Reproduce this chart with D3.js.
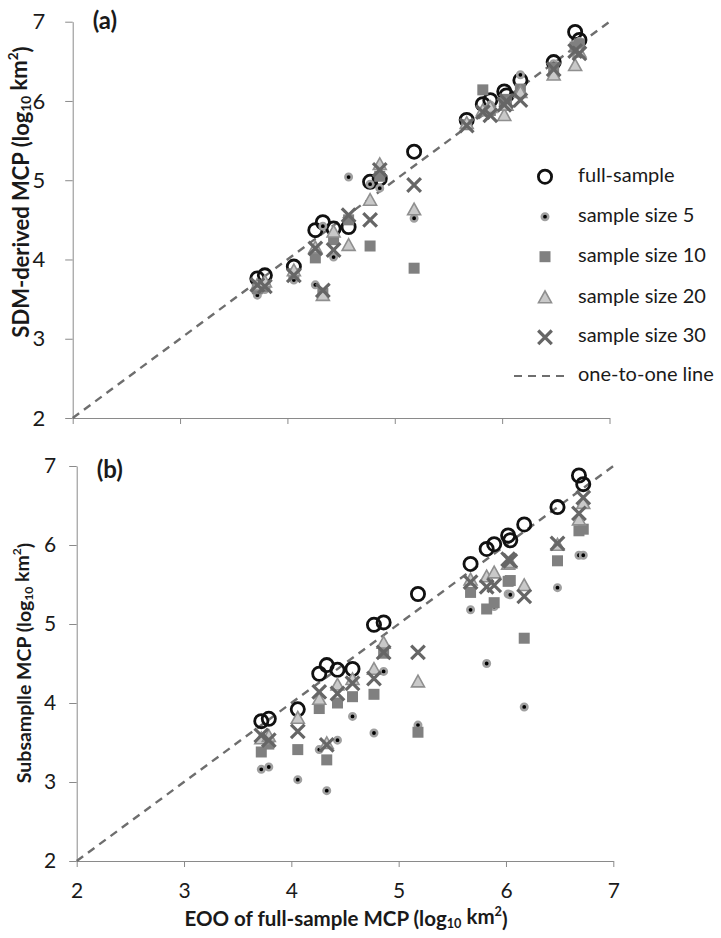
<!DOCTYPE html>
<html>
<head>
<meta charset="utf-8">
<script src="https://cdn.jsdelivr.net/npm/d3@7"></script>
<style>
  html, body { margin: 0; padding: 0; background: #fff; }
  svg { display: block; }
  text { font-family: Lato, "Open Sans", sans-serif; fill: #1a1a1a; }
</style>
</head>
<body>
<svg id="chart" width="721" height="938"></svg>
<script>
// Full-sample EOO for each species (log10 km²), shared by both panels
const eoo = [3.72, 3.79, 4.06, 4.26, 4.33, 4.43, 4.57, 4.77, 4.86, 5.18,
             5.67, 5.82, 5.89, 6.02, 6.04, 6.17, 6.48, 6.68, 6.72];

// Panel (a): SDM-derived MCP
const aFull = [3.76, 3.80, 3.91, 4.37, 4.47, 4.39, 4.41, 4.98, 5.02, 5.36,
               5.76, 5.96, 6.01, 6.12, 6.07, 6.26, 6.49, 6.87, 6.77];
const aS5   = [3.55, 3.62, 3.74, 3.68, 4.42, 4.03, 5.04, 4.95, 4.90, 4.52,
               5.72, 5.88, 5.95, 6.00, 6.02, 6.33, 6.47, 6.72, 6.75];
const aS10  = [3.63, 3.66, 3.82, 4.02, 3.57, 4.25, 4.50, 4.17, 5.05, 3.89,
               5.70, 6.14, 5.88, 5.98, 6.02, 6.15, 6.42, 6.68, 6.72];
const aS20  = [3.68, 3.72, 3.86, 4.15, 3.55, 4.35, 4.18, 4.75, 5.20, 4.63,
               5.72, 5.88, 5.92, 5.82, 5.95, 6.11, 6.33, 6.45, 6.62];
const aS30  = [3.68, 3.66, 3.80, 4.14, 3.61, 4.12, 4.56, 4.50, 5.13, 4.94,
               5.69, 5.86, 5.82, 5.95, 6.00, 6.01, 6.40, 6.63, 6.60];

// Panel (b): subsample MCP
const bFull = [3.77, 3.80, 3.92, 4.37, 4.48, 4.42, 4.43, 4.99, 5.02, 5.38,
               5.76, 5.95, 6.01, 6.12, 6.06, 6.26, 6.48, 6.88, 6.77];
const bS5   = [3.16, 3.19, 3.03, 3.41, 2.89, 3.53, 3.83, 3.62, 4.40, 3.72,
               5.18, 4.50, 5.22, 5.38, 5.37, 3.95, 5.46, 5.87, 5.87];
const bS10  = [3.38, 3.48, 3.41, 3.93, 3.28, 4.00, 4.08, 4.11, 4.63, 3.63,
               5.40, 5.19, 5.27, 5.54, 5.55, 4.82, 5.80, 6.18, 6.20];
const bS20  = [3.55, 3.58, 3.81, 4.05, 3.49, 4.23, 4.30, 4.43, 4.76, 4.27,
               5.56, 5.60, 5.65, 5.76, 5.78, 5.49, 6.00, 6.32, 6.53];
const bS30  = [3.59, 3.53, 3.64, 4.14, 3.47, 4.12, 4.25, 4.31, 4.64, 4.64,
               5.53, 5.47, 5.49, 5.82, 5.80, 5.35, 6.02, 6.40, 6.60];

const tickValues = [2, 3, 4, 5, 6, 7];
const seriesNames = ["full-sample", "sample size 5", "sample size 10",
                     "sample size 20", "sample size 30", "one-to-one line"];

const svg = d3.select("#chart");
const AXIS = "#8a8a8a";

// Marker painters, keyed by series
function drawMarker(g, kind, x, y) {
  if (kind === "full") {
    g.append("circle").attr("cx", x).attr("cy", y).attr("r", 6.6)
      .attr("fill", "none").attr("stroke", "#111").attr("stroke-width", 2.8);
  } else if (kind === "s5") {
    g.append("circle").attr("cx", x).attr("cy", y).attr("r", 3.2)
      .attr("fill", "#000").attr("stroke", "#a0a0a0").attr("stroke-width", 2.6);
  } else if (kind === "s10") {
    g.append("rect").attr("x", x - 5.5).attr("y", y - 5.5)
      .attr("width", 11).attr("height", 11).attr("fill", "#808080");
  } else if (kind === "s20") {
    const s = 6.5;
    g.append("path")
      .attr("d", `M${x},${y - s}L${x + s},${y + s * 0.8}L${x - s},${y + s * 0.8}Z`)
      .attr("fill", "#c9c9c9").attr("stroke", "#8f8f8f").attr("stroke-width", 1.6);
  } else if (kind === "s30") {
    const s = 6.8;
    g.append("path")
      .attr("d", `M${x - s},${y - s}L${x + s},${y + s}M${x - s},${y + s}L${x + s},${y - s}`)
      .attr("stroke", "#666").attr("stroke-width", 3.2).attr("fill", "none");
  }
}

// Axis title with log10 subscript and km² superscript
function unitTitle(sel, prefix) {
  sel.append("tspan").text(prefix + " (log");
  sel.append("tspan").text("10").attr("font-size", "0.62em").attr("dy", "0.3em");
  sel.append("tspan").text(" km").attr("dy", "-0.3em");
  sel.append("tspan").text("2").attr("font-size", "0.62em").attr("dy", "-0.45em");
  sel.append("tspan").text(")").attr("dy", "0.45em");
}

function panel(opts) {
  const x = d3.scaleLinear().domain([2, 7]).range(opts.xr);
  const y = d3.scaleLinear().domain([2, 7]).range(opts.yr);
  const g = svg.append("g");

  // axes
  const yAxis = d3.axisLeft(y).tickValues(tickValues).tickSize(7.5).tickSizeOuter(0)
    .tickPadding(opts.yPad).tickFormat(d3.format("d"));
  const gy = g.append("g").attr("transform", `translate(${opts.xr[0]},0)`).call(yAxis);
  gy.select(".domain").attr("stroke", AXIS);
  gy.selectAll(".tick line").attr("stroke", AXIS);
  gy.selectAll(".tick text").attr("font-size", opts.tickFont).attr("fill", "#222")
    .attr("font-family", "Lato, sans-serif");

  const xAxis = d3.axisBottom(x).tickValues(tickValues).tickSize(6).tickSizeOuter(0)
    .tickPadding(16).tickFormat(opts.xLabels ? d3.format("d") : () => "");
  const gx = g.append("g").attr("transform", `translate(0,${opts.yr[0]})`).call(xAxis);
  gx.select(".domain").attr("stroke", AXIS);
  gx.selectAll(".tick line").attr("stroke", AXIS);
  gx.selectAll(".tick text").attr("font-size", opts.tickFont).attr("fill", "#222")
    .attr("font-family", "Lato, sans-serif");

  // one-to-one line
  g.append("line")
    .attr("x1", x(2)).attr("y1", y(2)).attr("x2", x(7)).attr("y2", y(7))
    .attr("stroke", "#6e6e6e").attr("stroke-width", 2.4).attr("stroke-dasharray", "8,6");

  // series
  const series = [["full", opts.full], ["s5", opts.s5], ["s10", opts.s10],
                  ["s20", opts.s20], ["s30", opts.s30]];
  series.forEach(([kind, vals]) => {
    const sg = g.append("g").attr("class", kind);
    vals.forEach((v, i) => drawMarker(sg, kind, x(eoo[i]), y(v)));
  });

  // panel tag
  g.append("text").attr("x", opts.xr[0] + 20).attr("y", opts.tagY)
    .attr("font-size", 24).attr("font-weight", "bold").attr("dominant-baseline", "middle")
    .text(opts.tag);

  // y title
  const t = g.append("text")
    .attr("transform", `translate(${opts.titleX},${opts.titleY}) rotate(-90)`)
    .attr("text-anchor", "middle").attr("dominant-baseline", "middle")
    .attr("font-size", opts.titleFont).attr("font-weight", "bold");
  unitTitle(t, opts.yTitle);
  return { x, y };
}

panel({ xr: [72.7, 609.5], yr: [418, 21.7], xLabels: false, tag: "(a)", tagY: 23,
        yTitle: "SDM-derived MCP", titleX: 23, titleY: 192, titleFont: 22,
        tickFont: 22, yPad: 20,
        full: aFull, s5: aS5, s10: aS10, s20: aS20, s30: aS30 });

panel({ xr: [76.7, 613.3], yr: [861, 466], xLabels: true, tag: "(b)", tagY: 472,
        yTitle: "Subsamplle MCP", titleX: 26, titleY: 663, titleFont: 19.5,
        tickFont: 21, yPad: 13,
        full: bFull, s5: bS5, s10: bS10, s20: bS20, s30: bS30 });

// x title
const xt = svg.append("text").attr("x", 346).attr("y", 921)
  .attr("text-anchor", "middle").attr("dominant-baseline", "middle")
  .attr("font-size", 20.5).attr("font-weight", "bold");
unitTitle(xt, "EOO of full-sample MCP");

// legend
const kinds = ["full", "s5", "s10", "s20", "s30", "line"];
const rowY = [176.7, 216.7, 256.7, 297.5, 337.3, 376];
const leg = svg.append("g");
kinds.forEach((k, i) => {
  const yy = rowY[i];
  if (k === "line") {
    leg.append("line").attr("x1", 514).attr("x2", 569).attr("y1", yy).attr("y2", yy)
      .attr("stroke", "#6e6e6e").attr("stroke-width", 2).attr("stroke-dasharray", "8,6");
  } else {
    drawMarker(leg, k, 545, yy);
  }
  leg.append("text").attr("x", 578).attr("y", yy).attr("dominant-baseline", "middle")
    .attr("font-size", 20).text(seriesNames[i]);
});
</script>
</body>
</html>
